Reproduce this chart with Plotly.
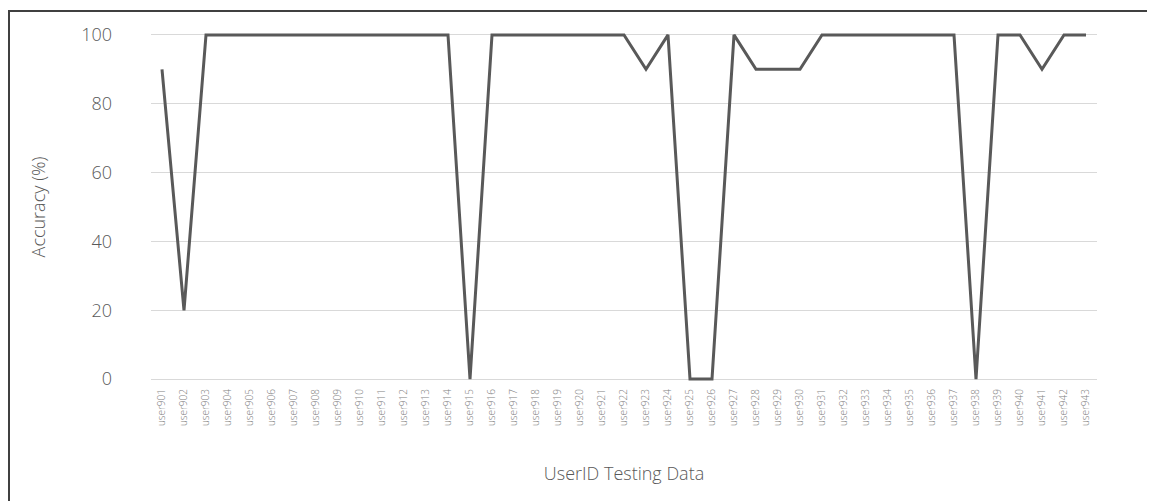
import plotly.graph_objects as go

users = [f"user{n}" for n in range(901, 944)]
accuracy = [
    90, 20, 100, 100, 100, 100, 100, 100, 100, 100,
    100, 100, 100, 100, 0, 100, 100, 100, 100, 100,
    100, 100, 90, 100, 0, 0, 100, 90, 90, 90,
    100, 100, 100, 100, 100, 100, 100, 0, 100, 100,
    90, 100, 100,
]

grey = "#595959"
face = "Open Sans, Noto Sans, sans-serif"

fig = go.Figure(go.Scatter(
    x=users, y=accuracy, mode="lines",
    line=dict(color=grey, width=3),
    cliponaxis=False,
))

# plot area in pixels (page has an 8px body offset)
L, R, T, B = 143, 66, 20, 123
W, H = 1155 - L - R, 501 - T - B

fig.update_layout(
    width=1155, height=501,
    margin=dict(l=L, r=R, t=T, b=B),
    paper_bgcolor="white", plot_bgcolor="white",
    showlegend=False,
    font=dict(family=face, color=grey, weight=300),
    shapes=[dict(
        type="rect", xref="paper", yref="paper",
        x0=(1 - L) / W, x1=(1170 - L) / W,
        y0=-(520 - T - H) / H, y1=(T + H - 3) / H,
        line=dict(color="#404040", width=2), fillcolor="rgba(0,0,0,0)",
        layer="below",
    )],
)
fig.update_xaxes(
    type="category", range=[-0.5, 42.5],
    tickangle=-90, tickfont=dict(size=10, color="#7f7f7f", weight=300),
    showgrid=False, showline=False, ticks="",
    title=dict(text="UserID Testing Data", font=dict(size=18, color=grey, weight=300), standoff=42),
)
fig.update_yaxes(
    range=[-2, 102], tickvals=[0, 20, 40, 60, 80, 100],
    tickfont=dict(size=18, color=grey, weight=300), ticklabelstandoff=38,
    showgrid=True, gridcolor="#d9d9d9", gridwidth=1,
    zeroline=False, showline=False, ticks="",
    title=dict(text="Accuracy (%)", font=dict(size=18, color=grey, weight=300), standoff=30),
)

fig.write_html("out.html")
